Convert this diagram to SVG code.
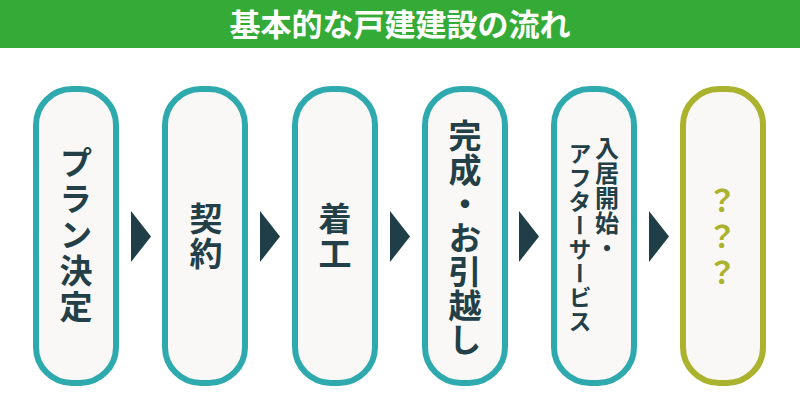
<svg xmlns="http://www.w3.org/2000/svg" width="800" height="419" viewBox="0 0 800 419">
<style>
.box{fill:#f9f8f6;stroke:#2eaaae;stroke-width:6}
.box2{fill:#f9f8f6;stroke:#abb22e;stroke-width:6}
.t{font-family:"Noto Sans CJK JP","Noto Sans",sans-serif;font-weight:bold;fill:#233f48;writing-mode:vertical-rl;text-anchor:middle}
.arr{fill:#1f3e48}
</style>
<rect width="800" height="419" fill="#ffffff"/>
<g id="header">
<rect x="0" y="0" width="800" height="48" fill="#33ab36"/>
<text x="400" y="36" font-family="'Noto Sans CJK JP',sans-serif" font-weight="bold" font-size="31" fill="#ffffff" text-anchor="middle">基本的な戸建建設の流れ</text>
</g>
<g id="connectors">
<polygon class="arr" points="131,211 151,236.5 131,262"/>
<polygon class="arr" points="260,211 280,236.5 260,262"/>
<polygon class="arr" points="390,211 410,236.5 390,262"/>
<polygon class="arr" points="519,211 539,236.5 519,262"/>
<polygon class="arr" points="649,211 669,236.5 649,262"/>
</g>
<g id="n1">
<rect class="box" x="36" y="89" width="80" height="294" rx="36"/>
<text class="t" x="76" y="236" font-size="33" letter-spacing="3">プラン決定</text>
</g>
<g id="n2">
<rect class="box" x="165" y="89" width="80" height="294" rx="36"/>
<text class="t" x="206" y="237" font-size="33" letter-spacing="2">契約</text>
</g>
<g id="n3">
<rect class="box" x="295" y="89" width="80" height="294" rx="36"/>
<text class="t" x="335" y="237" font-size="33" letter-spacing="2">着工</text>
</g>
<g id="n4">
<rect class="box" x="425" y="89" width="80" height="294" rx="36"/>
<text class="t" x="465" y="238" font-size="33" letter-spacing="1">完成・お引越し</text>
</g>
<g id="n5">
<rect class="box" x="554" y="89" width="80" height="294" rx="36"/>
<text class="t" x="607" y="136" font-size="24" style="text-anchor:start" letter-spacing="1">入居開始・</text>
<text class="t" x="580" y="142" font-size="23" style="text-anchor:start" letter-spacing="1">アフターサービス</text>
</g>
<g id="n6">
<rect class="box2" x="683" y="89" width="80" height="294" rx="36"/>
<text class="t" x="722" y="239" font-size="30" style="fill:#abb22e" letter-spacing="6">？？？</text>
</g>
</svg>
